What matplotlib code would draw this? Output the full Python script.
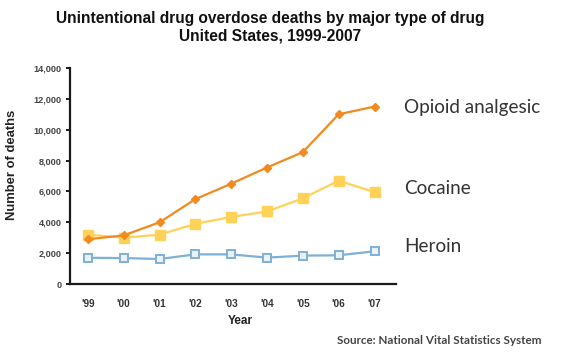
import matplotlib
matplotlib.use("Agg")
import matplotlib.pyplot as plt

years = ["'99", "'00", "'01", "'02", "'03", "'04", "'05", "'06", "'07"]
opioid = [2900, 3150, 4000, 5500, 6500, 7550, 8550, 11000, 11500]
cocaine = [3200, 3000, 3200, 3900, 4350, 4700, 5550, 6700, 5950]
heroin = [1700, 1680, 1620, 1920, 1920, 1710, 1840, 1860, 2120]
series_names = ["Opioid analgesic", "Cocaine", "Heroin"]
yticks = [0, 2000, 4000, 6000, 8000, 10000, 12000, 14000]

W, H = 565, 361
fig = plt.figure(figsize=(W / 100, H / 100), dpi=100)
fig.patch.set_facecolor("white")

left, right, top, bottom = 70, 396, 68, 284
ax = fig.add_axes([left / W, 1 - bottom / H, (right - left) / W, (bottom - top) / H])

x = list(range(len(years)))
c_op = "#F28A1E"
c_co = "#FFD257"
c_he = "#7FB1D6"

ax.plot(x, opioid, color=c_op, lw=1.6, marker="D", ms=3.8, mfc=c_op, mec=c_op, zorder=4)
ax.plot(x, cocaine, color=c_co, lw=1.6, marker="s", ms=6.5, mfc=c_co, mec=c_co, zorder=3)
ax.plot(x, heroin, color=c_he, lw=1.6, marker="s", ms=5.5, mfc="#EAF3FA", mec=c_he, mew=1.4, zorder=3)

ax.set_xlim(-0.5, 8.6)
ax.set_ylim(0, 14000)
ax.set_yticks(yticks)
ax.set_yticklabels([f"{v:,}" for v in yticks])
ax.set_xticks(x)
ax.set_xticklabels(years)

for s in ["top", "right"]:
    ax.spines[s].set_visible(False)
for s in ["left", "bottom"]:
    ax.spines[s].set_linewidth(1.6)
    ax.spines[s].set_color("#1a1a1a")

ax.tick_params(axis="y", length=3, width=1.4, color="#1a1a1a", pad=3,
               labelsize=6.6, labelcolor="#444444")
ax.tick_params(axis="x", length=0, pad=11, labelsize=7.2, labelcolor="#333333")
for lab in ax.get_yticklabels() + ax.get_xticklabels():
    lab.set_fontfamily("Liberation Sans")
    lab.set_fontweight("bold")

# Axis titles
fig.text(240 / W, 1 - 321 / H, "Year", ha="center", va="center",
         family="Liberation Sans", weight="bold", fontsize=8.5, color="#222222")
fig.text(12 / W, 1 - 165 / H, "Number of deaths", ha="center", va="center", rotation=90,
         family="Liberation Sans", weight="bold", fontsize=9.4, color="#222222")

# Title
fig.text(270 / W, 1 - 18 / H, "Unintentional drug overdose deaths by major type of drug",
         ha="center", va="center", family="Liberation Sans", weight="bold",
         fontsize=11.2, color="#111111")
fig.text(270 / W, 1 - 36 / H, "United States, 1999-2007",
         ha="center", va="center", family="Liberation Sans", weight="bold",
         fontsize=11.2, color="#111111")

# Series labels
label_y = [108, 188, 247]
for name, yy in zip(series_names, label_y):
    fig.text(404 / W, 1 - yy / H, name, ha="left", va="center",
             family="Lato", fontsize=13.6, color="#333333")

fig.text(337 / W, 1 - 340 / H, "Source: National Vital Statistics System",
         ha="left", va="center", family="Lato", weight="bold",
         fontsize=8.4, color="#444444")

fig.savefig("out.png", dpi=100, facecolor="white")
